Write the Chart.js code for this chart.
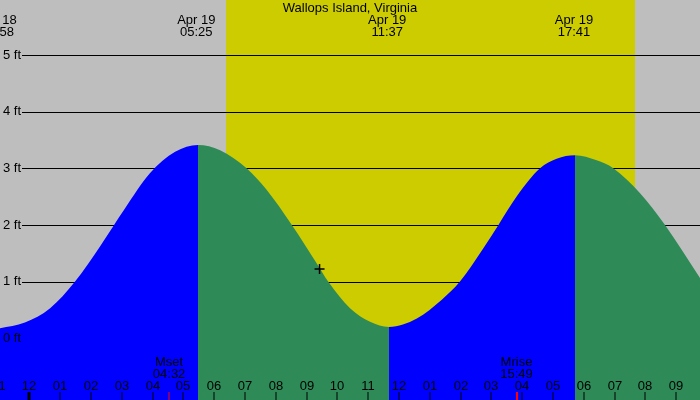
<!DOCTYPE html>
<html>
<head>
<meta charset="utf-8">
<script src="https://cdn.jsdelivr.net/npm/chart.js@4/dist/chart.umd.min.js"></script>
<style>
  html, body { margin: 0; padding: 0; background: #bebebe; }
  #wrap { width: 700px; height: 400px; }
</style>
</head>
<body>
<div id="wrap"><canvas id="tideChart" width="700" height="400"></canvas></div>
<script>
const TITLE = "Wallops Island, Virginia";

// tide heights (ft), hours from midnight Apr 19
const tideHours = [-1.03, -0.15, 0.67, 1.48, 2.29, 3.10, 3.91, 4.73, 5.4725, 6.19, 7.05, 7.70, 8.52, 9.33, 9.70, 10.41, 11.06, 11.6756, 12.58, 13.39, 13.98, 14.74, 15.23, 15.82, 16.58, 17.12, 17.7163, 18.42, 18.96, 19.83, 20.64, 21.78];
const tideFeet = [0.17, 0.28, 0.53, 1.0, 1.62, 2.29, 2.91, 3.29, 3.41, 3.32, 3.0, 2.62, 2.0, 1.32, 1.0, 0.53, 0.29, 0.20, 0.35, 0.68, 1.0, 1.59, 2.0, 2.50, 3.0, 3.17, 3.23, 3.14, 3.0, 2.56, 2.0, 1.06];

// high / low labels at top
const extremeDates = ["Apr 18", "Apr 19", "Apr 19", "Apr 19"];
const extremeTimes = ["22:58", "05:25", "11:37", "17:41"];
const extremeDayOffset = [-1, 0, 0, 0];

// sun and moon
const sunrise = "06:23";
const sunset = "19:40";
const moonLabels = ["Mset", "Mrise"];
const moonTimes = ["04:32", "15:49"];

// current time marker
const nowHour = [9.42];
const nowFeet = [1.22];

const yTicks = [0, 1, 2, 3, 4, 5];
const hourTicks = [-1, 0, 1, 2, 3, 4, 5, 6, 7, 8, 9, 10, 11, 12, 13, 14, 15, 16, 17, 18, 19, 20, 21];

const BLUE = "#0000ff";
const GREEN = "#2e8b57";
const GRAY = "#bebebe";
const YELLOW = "#cccc00";
const FONT = "13px 'Liberation Sans', Arial, sans-serif";

function toHours(str, dayOffset) {
    const [h, m] = str.split(":").map(Number);
    return (dayOffset || 0) * 24 + h + m / 60;
}

function hourLabel(h) {
    let hh = ((h % 12) + 12) % 12;
    if (hh === 0) hh = 12;
    return String(hh).padStart(2, "0");
}

const backdrop = {
    id: "backdrop",
    beforeDatasetsDraw(chart) {
        const { ctx, chartArea: a, scales: { x, y } } = chart;
        ctx.save();
        ctx.fillStyle = GRAY;
        ctx.fillRect(a.left, a.top, a.right - a.left, a.bottom - a.top);
        const x0 = x.getPixelForValue(toHours(sunrise));
        const x1 = x.getPixelForValue(toHours(sunset));
        ctx.fillStyle = YELLOW;
        ctx.fillRect(x0, a.top, x1 - x0, a.bottom - a.top);
        // gridlines
        ctx.strokeStyle = "#000";
        ctx.lineWidth = 1;
        yTicks.forEach(v => {
            const py = Math.round(y.getPixelForValue(v)) + 0.5;
            ctx.beginPath();
            ctx.moveTo(22, py);
            ctx.lineTo(a.right, py);
            ctx.stroke();
        });
        ctx.restore();
    },
    afterDatasetsDraw(chart) {
        const { ctx, scales: { x, y } } = chart;
        ctx.save();
        ctx.font = FONT;
        ctx.fillStyle = "#000";

        // title
        ctx.textAlign = "center";
        ctx.textBaseline = "middle";
        ctx.fillText(TITLE, 350, 8);

        // high/low times
        extremeTimes.forEach((t, i) => {
            const px = x.getPixelForValue(toHours(t, extremeDayOffset[i]));
            ctx.fillText(extremeDates[i], px, 20);
            ctx.fillText(t, px, 32);
        });

        // y labels
        ctx.textAlign = "left";
        yTicks.forEach(v => {
            ctx.fillText(v + " ft", 3, y.getPixelForValue(v));
        });

        // hour labels and ticks
        ctx.textAlign = "center";
        hourTicks.forEach(h => {
            const px = Math.round(x.getPixelForValue(h));
            ctx.fillStyle = "#000";
            ctx.fillText(hourLabel(h), px, 386);
            ctx.fillRect(h % 24 === 0 ? px - 1.5 : px - 0.5, 392, h % 24 === 0 ? 3 : 1, 8);
        });

        // moon rise/set
        moonTimes.forEach((t, i) => {
            const px = x.getPixelForValue(toHours(t));
            ctx.fillStyle = "#000";
            ctx.fillText(moonLabels[i], px, 362);
            ctx.fillText(t, px, 374);
            ctx.fillStyle = "#ff0000";
            ctx.fillRect(Math.round(px) - (i ? 1 : 0.5), 392, i ? 2 : 1, 8);
        });
        ctx.restore();
    }
};

new Chart(document.getElementById("tideChart"), {
    type: "line",
    data: {
        datasets: [
            {
                type: "scatter",
                data: nowHour.map((h, i) => ({ x: h, y: nowFeet[i] })),
                pointStyle: "cross",
                pointRadius: 5,
                borderColor: "#000",
                borderWidth: 1.5,
                order: 0,
            },
            {
                data: tideHours.map((h, i) => ({ x: h, y: tideFeet[i] })),
                borderWidth: 0,
                pointRadius: 0,
                fill: "start",
                backgroundColor: BLUE,
                cubicInterpolationMode: "monotone",
                segment: {
                    backgroundColor: c => c.p1.parsed.y >= c.p0.parsed.y ? BLUE : GREEN,
                },
                order: 1,
            },
        ],
    },
    plugins: [backdrop],
    options: {
        responsive: false,
        animation: false,
        layout: { padding: 0, autoPadding: false },
        plugins: {
            legend: { display: false },
            tooltip: { enabled: false },
        },
        scales: {
            x: { type: "linear", min: -0.958, max: 21.776, display: false },
            y: { min: -1.09, max: 5.97, display: false },
        },
    },
});
</script>
</body>
</html>
